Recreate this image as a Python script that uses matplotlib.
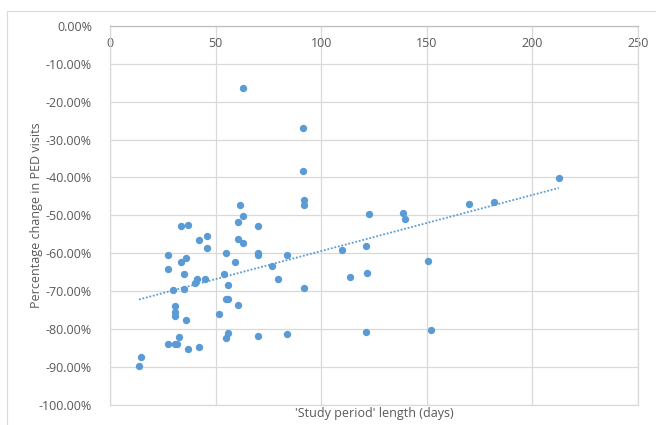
import numpy as np
import matplotlib.pyplot as plt
from matplotlib.patches import Rectangle
from matplotlib.ticker import FuncFormatter

# Study period length (days) and percentage change in PED visits
dias = [13.7, 14.7, 27.6, 30.7, 31.8, 32.8, 37.1, 42.1, 30.7, 30.7,
        30.7, 35.8, 29.6, 34.9, 27.6, 27.6, 33.6, 35.8, 34.9, 40.1,
        41.0, 44.8, 33.6, 37.0, 42.1, 45.7, 45.7, 55.0, 59.0, 53.8,
        56.0, 55.0, 56.0, 60.7, 51.6, 56.0, 55.0, 69.9, 83.9, 121.0,
        60.7, 63.1, 61.6, 60.7, 63.1, 69.9, 69.9, 69.9, 76.6, 79.6,
        83.9, 91.9, 91.9, 91.9, 109.9, 113.5, 121.0, 121.7, 122.5, 62.8,
        91.6, 91.6, 212.5, 181.6, 170.0, 138.5, 139.5, 150.6, 151.8]
cambio = [-89.8, -87.4, -84.1, -84.1, -84.1, -82.2, -85.3, -84.8, -74.1, -75.6,
          -76.5, -77.8, -69.7, -69.4, -64.1, -60.5, -62.3, -61.3, -65.6, -68.0,
          -66.8, -66.8, -52.8, -52.6, -56.5, -55.4, -58.6, -60.1, -62.3, -65.4,
          -68.3, -72.2, -72.2, -73.6, -76.2, -81.0, -82.5, -82.0, -81.3, -80.8,
          -51.8, -50.1, -47.3, -56.3, -57.3, -52.8, -60.1, -60.5, -63.4, -66.8,
          -60.5, -69.1, -46.0, -47.4, -59.3, -66.4, -58.1, -65.2, -49.7, -16.4,
          -26.9, -38.2, -40.2, -46.5, -47.0, -49.3, -51.1, -62.2, -80.3]

azul = '#5B9BD5'
gris = '#595959'
plt.rcParams['font.family'] = ['Open Sans', 'DejaVu Sans']

fig = plt.figure(figsize=(6.56, 4.25), dpi=100)
ax = fig.add_axes([110 / 656, 1 - 404.5 / 425, 528 / 656, 378.5 / 425])

# Borde exterior del área del gráfico
fig.patches.append(Rectangle((7 / 656, -0.05), 1.2, 1 - 11 / 425 + 0.05,
                             transform=fig.transFigure, fill=False,
                             edgecolor='#D9D9D9', linewidth=0.8))

x = np.array(dias)
y = np.array(cambio) / 100

ax.scatter(x, y, s=28, color=azul, zorder=3, linewidths=0)

# Línea de tendencia lineal
m, b = np.polyfit(x, y, 1)
xt = np.array([x.min(), x.max()])
ax.plot(xt, m * xt + b, linestyle=(0, (1, 1)), color=azul, linewidth=1.3, zorder=2)

ax.set_xlim(0, 250)
ax.set_ylim(-1.0, 0.0)
ax.set_xticks(np.arange(0, 251, 50))
ax.set_yticks(np.arange(-1.0, 0.01, 0.1))
ax.yaxis.set_major_formatter(FuncFormatter(lambda v, p: f"{round(v * 100, 2) + 0.0:.2f}%"))
ax.grid(True, color='#D9D9D9', linewidth=0.9)
ax.set_axisbelow(True)
for s in ax.spines.values():
    s.set_color('#D9D9D9')
    s.set_linewidth(0.9)
ax.spines['top'].set_color('#BFBFBF')

ax.tick_params(axis='x', length=0, labelbottom=False, labeltop=True,
               top=False, bottom=False, pad=-17, labelsize=9, labelcolor=gris)
ax.tick_params(axis='y', length=0, pad=13, labelsize=9, labelcolor=gris)

fig.text(374 / 656, 1 - 413 / 425, "'Study period' length (days)", ha='center',
         va='center', fontsize=9, color=gris)
fig.text(37 / 656, 1 - 215 / 425, "Percentage change in PED visits", ha='center',
         va='center', rotation=90, fontsize=9, color=gris)

fig.savefig('out.png', dpi=100)
